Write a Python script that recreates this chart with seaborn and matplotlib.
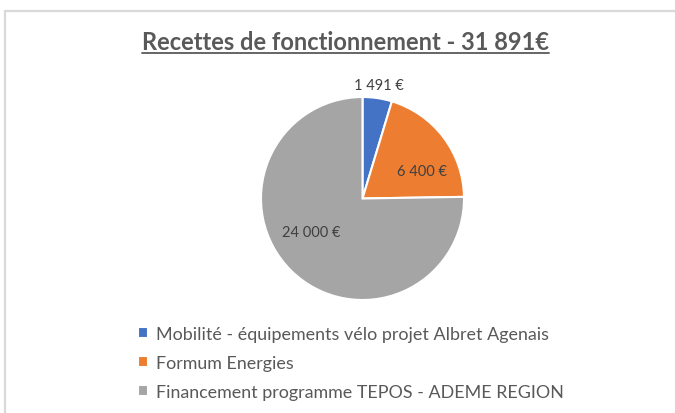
import matplotlib
matplotlib.use("Agg")
import matplotlib.pyplot as plt
from matplotlib.lines import Line2D
import seaborn as sns

# data
categories = ["Mobilité - équipements vélo projet Albret Agenais",
              "Formum Energies",
              "Financement programme TEPOS - ADEME REGION"]
values = [1491, 6400, 24000]
value_labels = ["1 491 €", "6 400 €", "24 000 €"]
title = "Recettes de fonctionnement - 31 891€"
colors = ["#4472C4", "#ED7D31", "#A5A5A5"]

# where excel put the data labels (pie radius = 1)
label_pos = [(0.163, 1.118), (0.586, 0.271), (-0.507, -0.33)]

sns.set_theme(style="white")
plt.rcParams["font.family"] = ["Lato", "DejaVu Sans"]

W, H = 675, 414
fig = plt.figure(figsize=(W / 100, H / 100), dpi=100)
fig.patch.set_facecolor("white")

# pie centre (362.5, 199.5) px, radius 101.5 px
cx, cy, r = 362.5, 199.5, 101.5
ax = fig.add_axes([(cx - r) / W, 1 - (cy + r) / H, 2 * r / W, 2 * r / H])
wedges, _ = ax.pie(values, colors=colors, startangle=90, counterclock=False,
                   wedgeprops=dict(edgecolor="white", linewidth=1.5))
ax.set_xlim(-1, 1)
ax.set_ylim(-1, 1)
ax.set_aspect("equal")
ax.axis("off")

for (x, y), txt in zip(label_pos, value_labels):
    ax.text(x, y, txt, ha="center", va="center", fontsize=10.5, color="#404040")

# title with underline
t = fig.text(345 / W, 1 - 42 / H, title, ha="center", va="center",
             fontsize=17, fontweight="bold", color="#595959")
fig.canvas.draw()
bb = t.get_window_extent(fig.canvas.get_renderer())
uy = 1 - 53.5 / H
fig.add_artist(Line2D([bb.x0 / W, bb.x1 / W], [uy, uy], color="#595959",
                      linewidth=1.3, transform=fig.transFigure))

# legend
leg = fig.legend(wedges, categories, loc="upper left",
                 bbox_to_anchor=(129 / W, 1 - 318 / H), frameon=False,
                 borderpad=0, fontsize=12.9, labelcolor="#595959",
                 handlelength=0.55, handleheight=0.55, handletextpad=0.45,
                 labelspacing=0.72)

# chart area border (left and top edges visible)
border = "#d9d9d9"
fig.add_artist(Line2D([5.5 / W, 1], [1 - 11.5 / H, 1 - 11.5 / H], color=border,
                      linewidth=1.6, transform=fig.transFigure))
fig.add_artist(Line2D([5.5 / W, 5.5 / W], [0, 1 - 11.5 / H], color=border,
                      linewidth=1.6, transform=fig.transFigure))

fig.savefig("out.png", dpi=100)
